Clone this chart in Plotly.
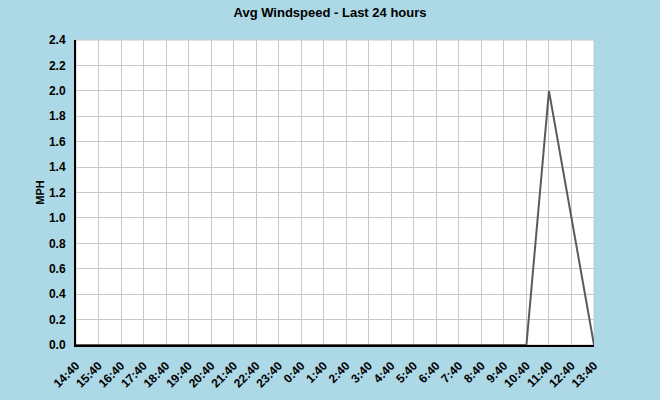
import plotly.graph_objects as go

hours = ["14:40", "15:40", "16:40", "17:40", "18:40", "19:40", "20:40", "21:40",
         "22:40", "23:40", "0:40", "1:40", "2:40", "3:40", "4:40", "5:40",
         "6:40", "7:40", "8:40", "9:40", "10:40", "11:40", "12:40", "13:40"]
windspeed = [0, 0, 0, 0, 0, 0, 0, 0, 0, 0, 0, 0, 0, 0, 0, 0,
             0, 0, 0, 0, 0, 2.0, 1.0, 0]

fig = go.Figure()
fig.add_trace(go.Scatter(
    x=hours, y=windspeed, mode="lines",
    line=dict(color="#5a5a5a", width=2),
    hoverinfo="x+y", showlegend=False,
))

font_family = "Liberation Sans, Arial, sans-serif"
fig.update_layout(
    width=660, height=400,
    paper_bgcolor="#add8e6", plot_bgcolor="white",
    margin=dict(l=76, r=66, t=40, b=55),
    title=dict(text="<b>Avg Windspeed - Last 24 hours</b>", x=0.5, xanchor="center",
               y=0.97, yanchor="middle",
               font=dict(family=font_family, size=13, color="black")),
    font=dict(family=font_family, color="black"),
)
fig.update_xaxes(
    type="category", range=[0, len(hours) - 1],
    tickangle=-45, tickfont=dict(family=font_family, size=12, color="black", weight="bold"),
    ticklabelstandoff=7, automargin=False,
    showgrid=True, gridcolor="#c8c8c8", gridwidth=1,
    showline=True, linecolor="black", linewidth=2,
    mirror=False, ticks="", fixedrange=True,
)
fig.update_yaxes(
    range=[0, 2.4], dtick=0.2, tickformat=".1f",
    tickfont=dict(family=font_family, size=12, color="black", weight="bold"),
    ticklabelstandoff=6, automargin=False,
    title=dict(text="<b>MPH</b>", font=dict(family=font_family, size=11, color="black"), standoff=2),
    showgrid=True, gridcolor="#c8c8c8", gridwidth=1,
    showline=True, linecolor="black", linewidth=2,
    zeroline=False, ticks="", fixedrange=True,
)
fig.add_shape(type="rect", xref="paper", yref="paper", x0=0, y0=0, x1=1, y1=1,
              line=dict(color="#c8c8c8", width=1), layer="below")
fig.write_html("out.html", config={"displayModeBar": False},
               post_script="document.body.style.margin='0';")
